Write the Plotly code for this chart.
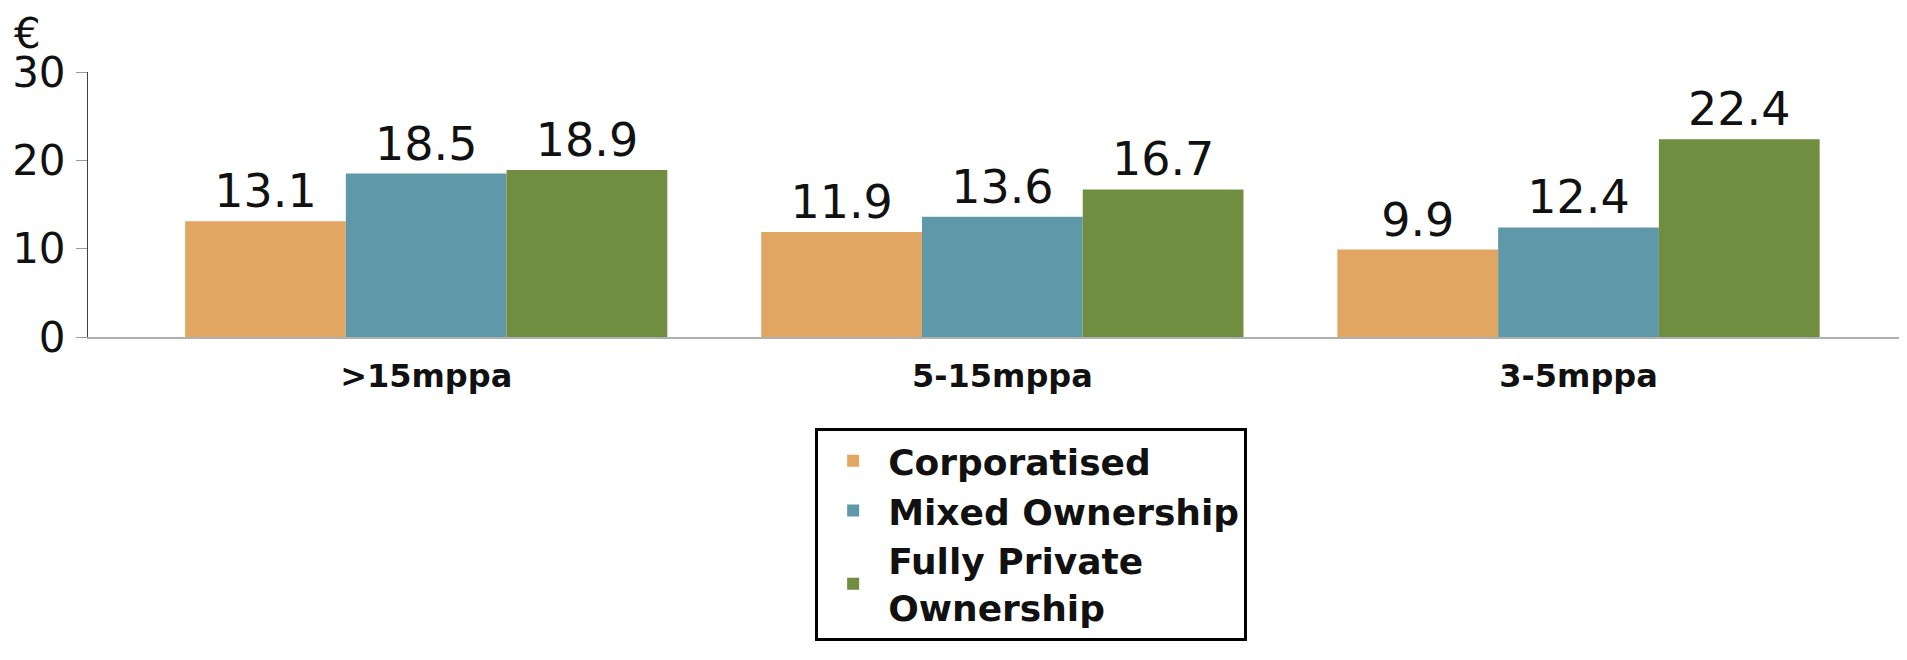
import plotly.graph_objects as go

categories = [">15mppa", "5-15mppa", "3-5mppa"]
corporatised = [13.1, 11.9, 9.9]
mixed = [18.5, 13.6, 12.4]
private = [18.9, 16.7, 22.4]
series_names = ["Corporatised", "Mixed Ownership", "Fully Private<br>Ownership"]
colors = ["#E0A662", "#5E98A9", "#718D40"]
y_ticks = [0, 10, 20, 30]

FONT = "DejaVu Sans"

fig = go.Figure()
for name, vals, col in zip(series_names, [corporatised, mixed, private], colors):
    fig.add_trace(go.Bar(
        x=categories, y=vals, name=name,
        marker=dict(color=col, line=dict(width=0)),
        text=[f"{v:.1f}" for v in vals],
        textposition="outside",
        textfont=dict(family=FONT, size=46, color="#111111"),
        cliponaxis=False,
    ))

fig.update_layout(
    width=1907, height=660,
    margin=dict(l=80, r=0, t=64, b=331),
    paper_bgcolor="white", plot_bgcolor="white",
    barmode="group", bargap=0.163, bargroupgap=0,
    showlegend=True,
    legend=dict(
        x=0.398, xanchor="left", y=-0.343, yanchor="top",
        bgcolor="white", bordercolor="black", borderwidth=3,
        font=dict(family=FONT, size=36, color="#111111", weight="bold"),
        tracegroupgap=0, itemsizing="constant",
        itemwidth=60,
    ),
    xaxis=dict(
        range=[-0.587, 2.584],
        showline=True, linecolor="#b0b0b0", linewidth=2,
        ticks="", showgrid=False,
        tickfont=dict(family=FONT, size=32, color="#111111", weight="bold"),
        ticklabelstandoff=10,
    ),
    yaxis=dict(
        range=[0, 30], tickvals=y_ticks,
        showline=True, linecolor="#404040", linewidth=1,
        ticks="outside", ticklen=11, tickcolor="#999999",
        showgrid=False, zeroline=False,
        tickfont=dict(family=FONT, size=42, color="#111111"),
        ticklabelstandoff=2,
    ),
    annotations=[dict(
        text="€", xref="paper", yref="paper",
        x=-0.041, y=1.24, xanchor="left", yanchor="top",
        showarrow=False, borderpad=0,
        font=dict(family=FONT, size=42, color="#111111"),
    )],
)

fig.write_html("out.html")
